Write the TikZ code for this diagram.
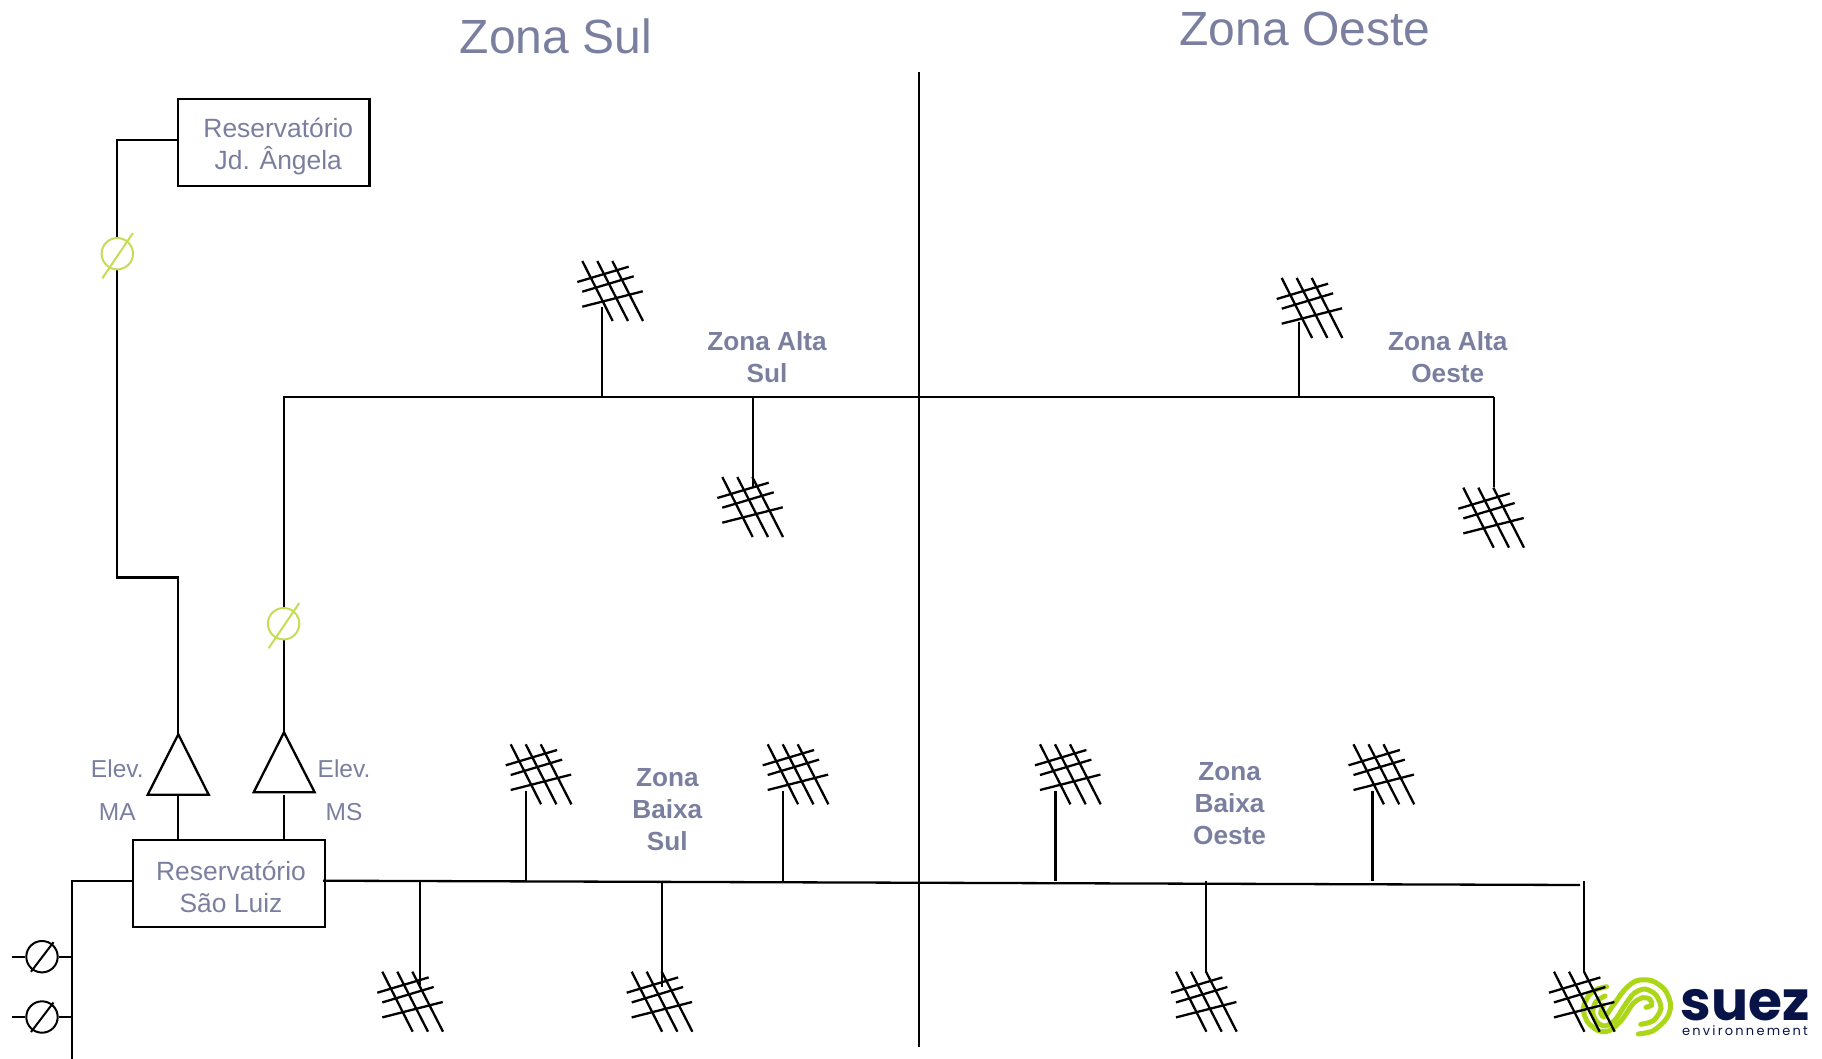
\documentclass[tikz,border=0pt]{standalone}
\usepackage{xcolor}
\usepackage{fontspec}
\setmainfont{Liberation Sans}
\newfontfamily\suezfont{Poppins}
\usepackage{tikz}
\usetikzlibrary{positioning}
\definecolor{textoazul}{RGB}{122, 127, 160}
\definecolor{valvulaverde}{RGB}{196, 221, 84}
\definecolor{logoverde}{RGB}{172, 214, 24}
\definecolor{logoazul}{RGB}{8, 20, 72}
\tikzset{
  cano/.style={black,line width=2.3pt},
  grade/.pic={
    \foreach \xa/\xb in {5/35.4,20/50.7,35/65.7} {
      \draw[black,line width=2.3pt] (\xa,0) -- (\xb,60);
    }
    \draw[black,line width=2.3pt] (0,21) -- (51.4,5.7);
    \draw[black,line width=2.3pt] (5,30.7) -- (56.4,15.3);
    \draw[black,line width=2.3pt] (5,45.7) -- (65.4,30.3);
  },
  caixa/.style={draw=black,line width=2.3pt,fill=white,inner sep=0pt},
  valvula/.style={circle,draw,fill=white,line width=2pt,minimum size=31.4pt,inner sep=0pt},
  rotulo/.style={text=textoazul,align=center,font=\fontsize{26.4}{32}\selectfont},
  zona/.style={text=textoazul,align=center,font=\fontsize{26.2}{32}\selectfont\bfseries},
  titulo/.style={text=textoazul,font=\fontsize{48}{56}\selectfont},
  elev/.style={text=textoazul,font=\fontsize{24.5}{28}\selectfont}
}
\begin{document}
\begin{tikzpicture}[x=1pt, y=-1pt]
\useasboundingbox (0,0) rectangle (1822,1059);

% Titles
\node[titulo] at (556,36) (TSul) {Zona Sul};
\node[titulo] at (1305,29) (TOeste) {Zona Oeste};

% Logo
\begin{scope}[shift={(1570,970)},x=0.3333pt,y=-0.3333pt,logoverde,line width=5pt,line cap=round]
\draw plot[smooth] coordinates {(205,192) (250,182) (290,145) (302,105) (285,60) (245,32) (200,32) (165,58) (130,105) (105,140) (92,130) (100,105)};
\draw plot[smooth] coordinates {(212,163) (250,152) (273,115) (258,75) (225,57) (192,70) (165,105) (135,150) (105,168) (80,155) (68,125) (78,95) (105,78)};
\draw plot[smooth] coordinates {(228,112) (245,105) (240,88) (218,83) (190,100) (155,150) (118,182) (85,182) (52,155) (40,115) (55,78) (80,58) (110,50)};
\end{scope}
\node[text=logoazul,inner sep=0pt,font=\suezfont\bfseries\fontsize{55}{55}\selectfont] at (1745,1005) (suez) {suez};
\node[text=logoazul,inner sep=0pt,font=\suezfont\fontsize{13}{13}\selectfont\addfontfeature{LetterSpace=17}] at (1745,1031) (env) {environnement};

% Central divide
\coordinate (DivA) at (919,72);
\coordinate (DivB) at (919,1047);
\draw[cano,line width=2.5pt] (DivA) -- (DivB);

% Reservoirs
\node[caixa,minimum width=191.5pt,minimum height=86.4pt] at (273.8,142.5) (JdAngela) {};
\node[rotulo] at ([shift={(4.5,4.5)}]JdAngela.center) (TAngela) {Reservatório\\Jd. Ângela};
\node[caixa,minimum width=192pt,minimum height=86.4pt] at (229,883.5) (SaoLuiz) {};
\node[rotulo] at ([shift={(2,3.5)}]SaoLuiz.center) (TLuiz) {Reservatório\\São Luiz};

% Pumps
\coordinate (TopoMA) at (178.3,734.3);
\coordinate (TopoMS) at (284,732.3);
\draw[cano] (TopoMA) -- (147.7,794.7) -- (208.7,794.7) -- cycle;
\draw[cano] (TopoMS) -- (253.7,792.3) -- (314.7,792.3) -- cycle;
\coordinate (BaseMA) at (178.3,794.7);
\coordinate (BaseMS) at (284,794.7);
\draw[cano] (BaseMA) -- (BaseMA |- SaoLuiz.north);
\draw[cano] (BaseMS) -- (BaseMS |- SaoLuiz.north);
\node[elev] at (117.3,769) (E1) {Elev.};
\node[elev] at (117.3,812) (E2) {MA};
\node[elev] at (344,769) (E3) {Elev.};
\node[elev] at (344,812) (E4) {MS};

% Mains
\coordinate (Ca) at (117.3,140);
\coordinate (Cb) at (117.3,577.6);
\coordinate (Cc) at (178.3,577.6);
\coordinate (AltaA) at (284,396.7);
\coordinate (AltaB) at (1493.7,396.7);
\coordinate (BaixaA) at (323,880.7);
\coordinate (BaixaB) at (1580,885);
\draw[cano] (JdAngela.west |- Ca) -- (Ca) -- (Cb) -- (Cc) -- (TopoMA);
\draw[cano] (TopoMS) -- (AltaA) -- (AltaB);
\draw[cano] (BaixaA) -- (BaixaB);

% Networks
\foreach \id/\gx/\gy/\sx/\sy/\by in {
  1/577.3/261/602/306.7/396.7, 2/717.3/477/752.7/486.7/396.7,
  3/1276.7/278/1299/321.7/396.7, 4/1458.3/487.7/1493.7/486.7/396.7,
  5/505.7/744.3/525.7/790.7/881, 6/762.7/744.3/783/790.7/882,
  7/1035/744.3/1055.5/790.7/881, 8/1348.5/744.3/1372.5/790.7/881,
  9/377.3/971.7/420/985/881, 10/626.7/971.7/661.7/986.7/882,
  11/1171/971.7/1206/971.7/881, 12/1549/971.7/1584/971.7/881} {
    \pic at (\gx,\gy) {grade};
    \coordinate (B\id) at (\sx,\by);
    \coordinate (P\id) at (\sx,\sy);
    \draw[cano] (B\id) -- (P\id);
}

% Zones
\node[zona] at (767,357) (ZAS) {Zona Alta\\Sul};
\node[zona] at (1447.7,357.5) (ZAO) {Zona Alta\\Oeste};
\node[zona] at (667.3,810) (ZBS) {Zona\\Baixa\\Sul};
\node[zona] at (1229.6,803.8) (ZBO) {Zona\\Baixa\\Oeste};

% Green valves
\node[valvula,draw=valvulaverde] at (117.3,253.7) (VA) {};
\node[valvula,draw=valvulaverde] at (283.6,623.7) (VB) {};
\foreach \v in {VA,VB} {
    \draw[valvulaverde,line width=2pt] ([shift={(-15,24.6)}]\v.center) -- ([shift={(15.6,-20.6)}]\v.center);
}

% Wells
\coordinate (Fa) at (72.3,880.7);
\coordinate (Fb) at (72.3,1059);
\draw[cano] (SaoLuiz.west |- Fa) -- (Fa) -- (Fb);
\node[valvula] at (42,956.7) (P1) {};
\node[valvula] at (42,1017) (P2) {};
\foreach \v/\ya in {P1/1,P2/2} {
    \coordinate (L\ya) at ([xshift=-30pt]\v.center);
    \draw[cano] (L\ya) -- (\v);
    \draw[cano] (\v) -- (Fa |- \v);
    \draw[black,line width=2pt] ([shift={(-11,15)}]\v.center) -- ([shift={(11.5,-14.5)}]\v.center);
}

\end{tikzpicture}
\end{document}
